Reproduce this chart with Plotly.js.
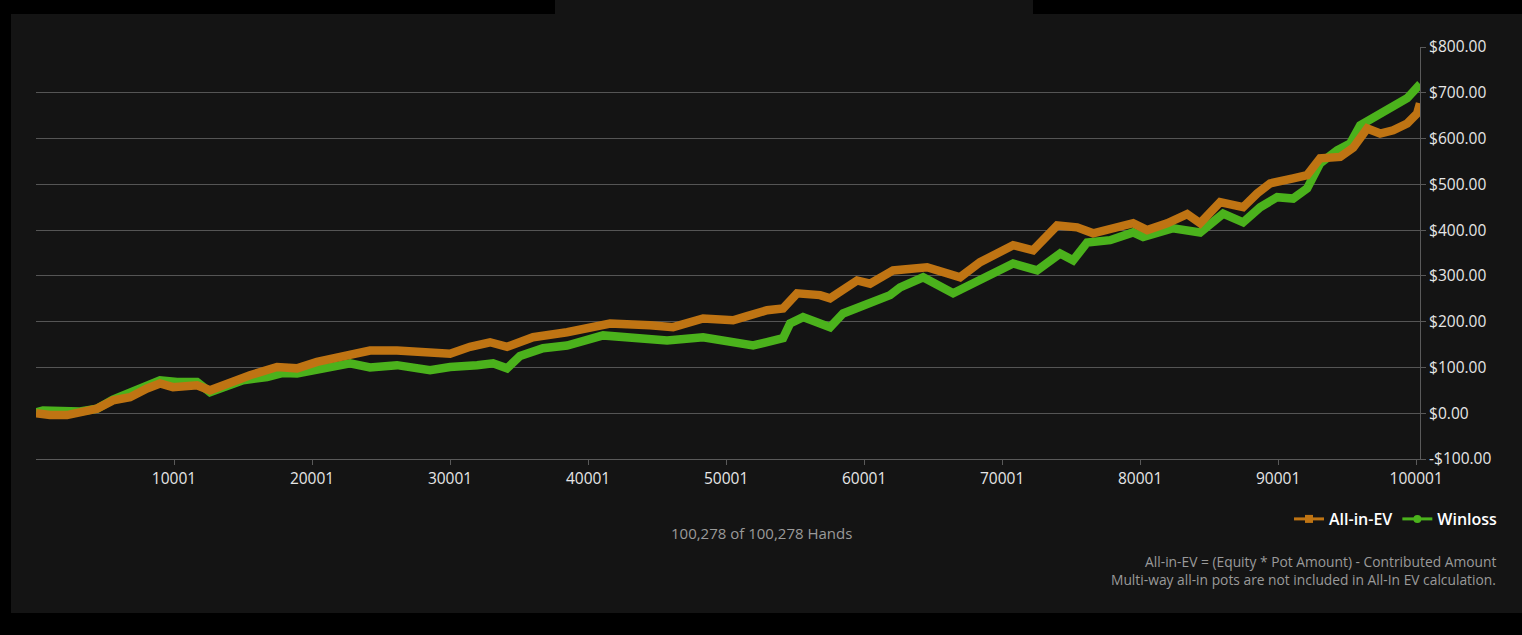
<!DOCTYPE html>
<html>
<head>
<meta charset="utf-8">
<script src="https://cdn.plot.ly/plotly-3.0.1.min.js"></script>
<style>
  html, body { margin:0; padding:0; background:#000; width:1522px; height:635px; overflow:hidden; }
  #panel { position:absolute; left:11px; top:14px; width:1511px; height:599px; background:#141414; }
  #tab { position:absolute; left:555px; top:0; width:478px; height:14px; background:#141414; }
  #chart { position:absolute; left:0; top:0; width:1522px; height:635px; }
</style>
</head>
<body>
<div id="panel"></div>
<div id="tab"></div>
<div id="chart"></div>
<script>
// Hands (x) and values ($)
const evHands = [1,1015,2247,3189,4421,5580,6813,8044,8986,9928,11667,12609,14058,15508,17464,18913,20362,21812,24203,26160,28044,30000,31450,32899,34130,36015,38478,41594,44493,46160,48334,50508,51522,52971,54131,55145,56812,57537,59493,60435,62102,64566,66957,68406,70798,72247,73986,75435,76595,78334,79493,80508,81957,83406,84348,85797,87464,88478,89420,91087,92101,93043,94493,95435,96450,97392,98334,99348,100073,100278];
const evValues = [0,-4,-4,2,10,28,35,54,65,57,61,50,68,83,101,98,112,122,137,137,135,130,145,155,145,166,177,196,192,188,207,203,212,225,229,262,258,251,290,283,312,319,297,330,367,356,410,406,393,404,415,400,415,435,415,461,450,480,502,513,520,557,560,580,622,611,618,633,655,677];

const wlHands = [1,508,3189,4421,5580,7537,8986,10218,11667,12609,15000,16740,17899,18913,20580,22754,24203,26160,28551,30000,31957,33116,34130,35072,36740,38478,41087,43768,45725,48334,50508,51957,54131,54638,55580,57537,58479,60218,61885,62610,64276,66450,68406,70798,72537,74203,75145,76160,77827,79493,80218,82392,84348,86015,87464,88696,89928,91087,92101,93043,94276,95218,95943,97392,98334,99348,100073,100278];
const wlValues = [2,6,4,10,30,54,72,68,68,46,72,79,88,87,98,109,100,105,94,101,105,109,98,125,142,148,170,164,159,166,153,148,164,196,210,188,218,240,258,275,297,262,290,327,312,349,334,373,378,395,385,404,395,436,417,450,472,469,491,546,574,589,629,655,668,688,712,705];

const xTickVals = [10001,20001,30001,40001,50001,60001,70001,80001,90001,100001];
const xTickText = ["10001","20001","30001","40001","50001","60001","70001","80001","90001","100001"];
const yTickVals = [-100,0,100,200,300,400,500,600,700,800];
const yTickText = ["-$100.00","$0.00","$100.00","$200.00","$300.00","$400.00","$500.00","$600.00","$700.00","$800.00"];

const seriesNames = ["All-in-EV","Winloss"];
const colEV = "#bf7413", colWL = "#4bb21c";

const traces = [
  {x: wlHands, y: wlValues, type:"scatter", mode:"lines", line:{color:colWL, width:8.5}, showlegend:false, hoverinfo:"skip"},
  {x: evHands, y: evValues, type:"scatter", mode:"lines", line:{color:colEV, width:8.5}, showlegend:false, hoverinfo:"skip"},
  {x:[null], y:[null], type:"scatter", mode:"lines+markers", name:seriesNames[0], line:{color:colEV, width:3}, marker:{color:colEV, size:8, symbol:"square"}},
  {x:[null], y:[null], type:"scatter", mode:"lines+markers", name:seriesNames[1], line:{color:colWL, width:3}, marker:{color:colWL, size:8, symbol:"circle"}}
];

const L = 36, R = 1420, T = 47, B = 459;
const px = v => (v - L) / (R - L);
const py = v => (B - v) / (B - T);

const layout = {
  width:1522, height:635,
  margin:{l:L, r:1522-R, t:T, b:635-B, pad:0},
  paper_bgcolor:"rgba(0,0,0,0)",
  plot_bgcolor:"rgba(0,0,0,0)",
  font:{family:"Open Sans, sans-serif", color:"#e6e6e6", size:15},
  xaxis:{
    range:[1,100278], tickvals:xTickVals, ticktext:xTickText,
    showgrid:false, zeroline:false, showline:true, linecolor:"#5a5a5a", linewidth:1,
    ticks:"outside", ticklen:5, tickcolor:"#5a5a5a",
    tickfont:{size:15.5, color:"#e6e6e6"}
  },
  yaxis:{
    range:[-100,800], side:"right", tickvals:yTickVals, ticktext:yTickText,
    showgrid:true, gridcolor:"#555555", gridwidth:1, zeroline:false,
    showline:true, linecolor:"#5a5a5a", linewidth:1,
    ticks:"outside", ticklen:5, tickcolor:"#5a5a5a",
    tickfont:{size:15.5, color:"#e6e6e6"}
  },
  showlegend:true,
  legend:{
    orientation:"h", x:px(1503), xanchor:"right", y:py(519), yanchor:"middle",
    font:{size:16, color:"#ffffff", family:"Open Sans, sans-serif", weight:600},
    bgcolor:"rgba(0,0,0,0)", itemwidth:30, tracegroupgap:0
  },
  annotations:[
    {text:"100,278 of 100,278 Hands", xref:"paper", yref:"paper", x:px(762), y:py(533), xanchor:"center", yanchor:"middle", showarrow:false, font:{size:15, color:"#9a9a9a"}},
    {text:"All-in-EV = (Equity * Pot Amount) - Contributed Amount", xref:"paper", yref:"paper", x:px(1498), y:py(561), xanchor:"right", yanchor:"middle", showarrow:false, font:{size:13.8, color:"#9a9a9a"}},
    {text:"Multi-way all-in pots are not included in All-In EV calculation.", xref:"paper", yref:"paper", x:px(1498), y:py(579), xanchor:"right", yanchor:"middle", showarrow:false, font:{size:13.8, color:"#9a9a9a"}}
  ]
};

Plotly.newPlot("chart", traces, layout, {displayModeBar:false, staticPlot:true});
</script>
</body>
</html>
